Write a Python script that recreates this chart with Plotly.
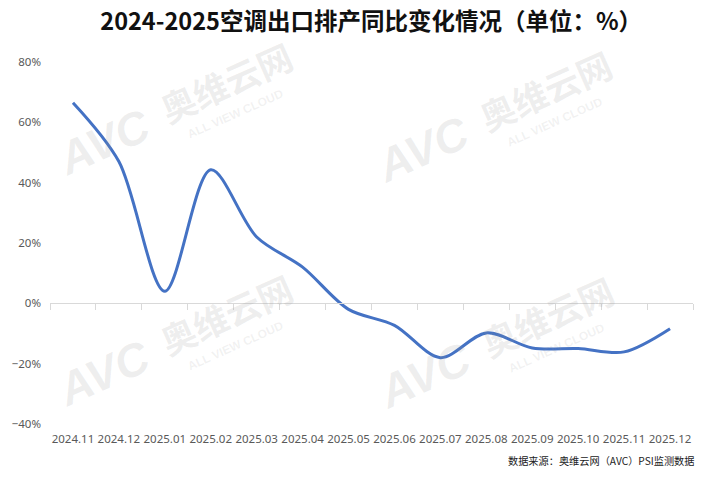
import plotly.graph_objects as go

months = ["2024.11", "2024.12", "2025.01", "2025.02", "2025.03", "2025.04", "2025.05",
          "2025.06", "2025.07", "2025.08", "2025.09", "2025.10", "2025.11", "2025.12"]
yoy = [66.5, 47.0, 4.0, 44.3, 22.0, 12.0, -2.0, -7.3, -18.0, -9.8, -14.8, -15.0, -16.1, -8.4]
y_ticks = [-40, -20, 0, 20, 40, 60, 80]
y_tick_text = ["−40%", "−20%", "0%", "20%", "40%", "60%", "80%"]

title_text = "2024-2025空调出口排产同比变化情况（单位：%）"
source_text = "数据来源：奥维云网（AVC）PSI监测数据"

fig = go.Figure()
fig.add_trace(go.Scatter(
    x=months, y=yoy, mode="lines",
    line=dict(color="#4472C4", width=3, shape="spline", smoothing=0.9),
    xaxis="x", yaxis="y", hoverinfo="x+y", showlegend=False,
))
# invisible trace to carry the bottom label axis
fig.add_trace(go.Scatter(
    x=months, y=[None] * len(months), mode="lines",
    xaxis="x2", yaxis="y", showlegend=False, hoverinfo="skip",
))

# watermarks
wm_color = "rgba(150,150,150,0.16)"
wm = []
for (cx, cy) in [(0.083, 0.78), (0.58, 0.76), (0.083, 0.14), (0.583, 0.135)]:
    wm.append(dict(x=cx, y=cy, xref="paper", yref="paper", text="<b><i>AVC</i></b>",
                   xanchor="center", yanchor="middle",
                   showarrow=False, textangle=-24, font=dict(size=46, color=wm_color, family="Arial")))
    wm.append(dict(x=cx + 0.19, y=cy + 0.165, xref="paper", yref="paper", text="<b>奥维云网</b>",
                   xanchor="center", yanchor="middle",
                   showarrow=False, textangle=-24, font=dict(size=35, color=wm_color, family="Noto Sans CJK SC")))
    wm.append(dict(x=cx + 0.205, y=cy + 0.075, xref="paper", yref="paper", text="<b>ALL VIEW CLOUD</b>",
                   xanchor="center", yanchor="middle",
                   showarrow=False, textangle=-24, font=dict(size=12, color="rgba(150,150,150,0.13)", family="Arial")))

fig.update_layout(
    width=711, height=479,
    margin=dict(l=46, r=18, t=62, b=55),
    paper_bgcolor="white", plot_bgcolor="white",
    title=dict(text="<b>" + title_text + "</b>", x=0.522, xanchor="center", y=0.955, yanchor="middle",
               font=dict(size=23.5, color="#111111", family="Noto Sans CJK SC")),
    xaxis=dict(type="category", categoryorder="array", categoryarray=months,
               anchor="free", position=1/3, showline=True, linecolor="#d9d9d9", linewidth=1,
               ticks="outside", tickson="boundaries", ticklen=6, tickcolor="#d9d9d9",
               showticklabels=False, showgrid=False, zeroline=False, range=[-0.5, 13.5]),
    xaxis2=dict(type="category", categoryorder="array", categoryarray=months, overlaying="x",
                anchor="y", side="bottom", showline=False, ticks="", showgrid=False,
                range=[-0.5, 13.5], tickfont=dict(size=11.5, color="#595959", family="Noto Sans"),
                ticklabelstandoff=6),
    yaxis=dict(range=[-40, 80], tickvals=y_ticks, ticktext=y_tick_text, showgrid=False,
               zeroline=False, showline=False, ticks="",
               tickfont=dict(size=11.5, color="#595959", family="Noto Sans"), ticklabelstandoff=8),
    annotations=wm + [
        dict(x=1.0, y=-0.102, xref="paper", yref="paper", xanchor="right", yanchor="middle",
             xshift=4, text=source_text, showarrow=False,
             font=dict(size=10.2, color="#222222", family="Noto Sans CJK SC")),
    ],
)

fig.write_html("out.html", config={"displayModeBar": False},
               post_script="document.body.style.margin='0';document.body.style.overflow='hidden';")
